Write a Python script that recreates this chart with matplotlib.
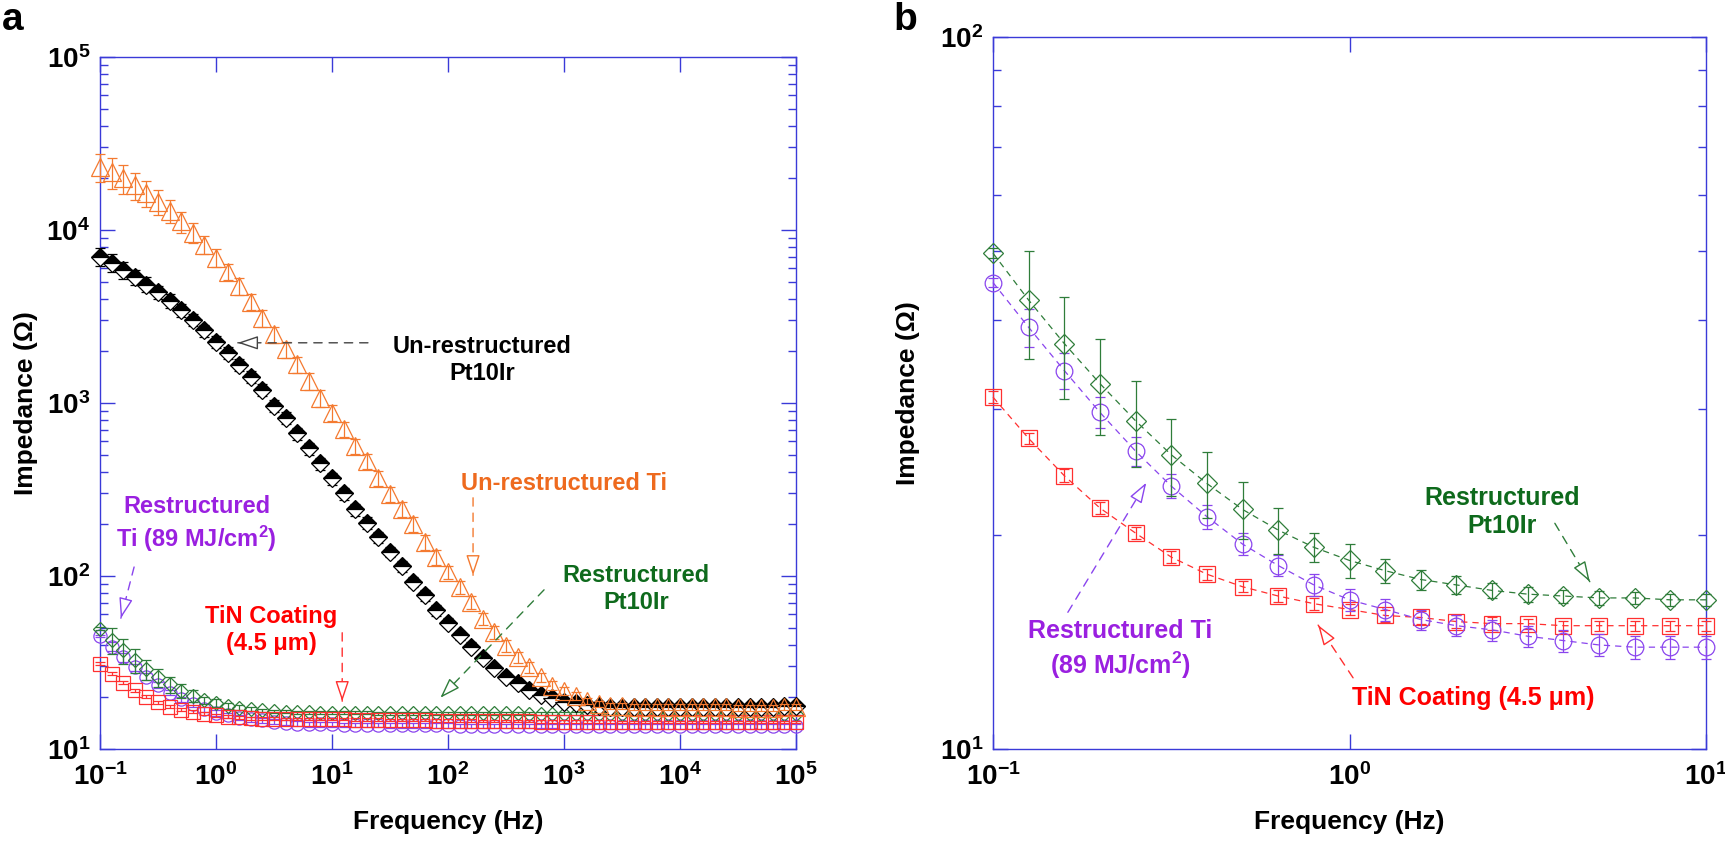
import numpy as np
import matplotlib
matplotlib.use('Agg')
import matplotlib.pyplot as plt
from matplotlib.ticker import LogLocator, FuncFormatter, NullLocator, NullFormatter

plt.rcParams['font.family'] = ['Liberation Sans', 'DejaVu Sans']
plt.rcParams['font.weight'] = 'bold'
plt.rcParams['mathtext.fontset'] = 'custom'
plt.rcParams['mathtext.rm'] = 'Liberation Sans:bold'
plt.rcParams['mathtext.bf'] = 'Liberation Sans:bold'
plt.rcParams['mathtext.it'] = 'Liberation Sans:bold'

# ---------------- data ----------------
freq = [0.1, 0.1259, 0.1585, 0.1995, 0.2512, 0.3162, 0.3981, 0.5012, 0.631, 0.7943,
        1, 1.259, 1.585, 1.995, 2.512, 3.162, 3.981, 5.012, 6.31, 7.943,
        10, 12.59, 15.85, 19.95, 25.12, 31.62, 39.81, 50.12, 63.1, 79.43,
        100, 125.9, 158.5, 199.5, 251.2, 316.2, 398.1, 501.2, 631, 794.3,
        1000, 1259, 1585, 1995, 2512, 3162, 3981, 5012, 6310, 7943,
        10000, 12590, 15850, 19950, 25120, 31620, 39810, 50120, 63100, 79430, 100000]

unres_ti = [23200, 21600, 19950, 18200, 16400, 14600, 12900, 11200, 9660, 8220,
            6920, 5750, 4730, 3850, 3110, 2490, 2040, 1670, 1340, 1070,
            879, 705, 564, 462, 370, 296, 244, 200, 157, 128,
            105, 86.1, 70.5, 56.4, 47.3, 39.5, 33.9, 29.6, 25.9, 23.2,
            21.7, 20.3, 19.0, 18.2, 17.8, 17.7, 17.6, 17.6, 17.5, 17.5,
            17.5, 17.4, 17.4, 17.4, 17.4, 17.3, 17.3, 17.3, 17.3, 17.4, 17.5]
unres_ti_relerr = [0.18, 0.20, 0.19, 0.18, 0.17, 0.16, 0.15, 0.14, 0.13, 0.12,
                   0.12, 0.11, 0.11, 0.11, 0.11, 0.11, 0.11, 0.11, 0.11, 0.11,
                   0.11, 0.10, 0.10, 0.10, 0.10, 0.10, 0.10, 0.10, 0.10, 0.10,
                   0.09, 0.08, 0.08, 0.08, 0.08, 0.08, 0.07, 0.07, 0.06, 0.06,
                   0.05, 0.05, 0.04, 0.04, 0.04, 0.04, 0.04, 0.04, 0.04, 0.04,
                   0.04, 0.04, 0.04, 0.04, 0.04, 0.04, 0.04, 0.04, 0.04, 0.04, 0.04]

unres_pt = [7010, 6460, 5890, 5370, 4840, 4370, 3890, 3430, 3020, 2630,
            2260, 1950, 1660, 1410, 1190, 962, 817, 668, 547, 448,
            367, 300, 243, 202, 167, 138, 114, 92.7, 77.6, 63.5,
            53.7, 45.6, 39.0, 33.4, 29.2, 26.2, 24.0, 21.9, 20.5, 19.6,
            18.7, 18.4, 17.9, 17.7, 17.6, 17.5, 17.5, 17.4, 17.4, 17.4,
            17.4, 17.4, 17.4, 17.4, 17.4, 17.5, 17.5, 17.5, 17.6, 17.7, 17.8]
unres_pt_relerr = [0.12, 0.12, 0.11, 0.10, 0.10, 0.09, 0.09, 0.09, 0.08, 0.08,
                   0.08, 0.08, 0.08, 0.08, 0.08, 0.08, 0.08, 0.08, 0.08, 0.08,
                   0.08, 0.08, 0.08, 0.08, 0.07, 0.07, 0.07, 0.07, 0.07, 0.07,
                   0.06, 0.06, 0.06, 0.05, 0.05, 0.05, 0.05, 0.04, 0.04, 0.04,
                   0.04, 0.04, 0.04, 0.04, 0.04, 0.04, 0.04, 0.04, 0.04, 0.04,
                   0.04, 0.04, 0.04, 0.04, 0.04, 0.04, 0.04, 0.04, 0.04, 0.04, 0.04]

res_pt = [49.7, 42.7, 37.1, 32.6, 28.9, 25.9, 23.6, 21.7, 20.3, 19.2,
          18.4, 17.8, 17.3, 17.0, 16.7, 16.5, 16.4, 16.3, 16.3, 16.2,
          16.2, 16.2, 16.2, 16.2, 16.1, 16.1, 16.1, 16.1, 16.1, 16.1,
          16.1, 16.1, 16.1, 16.1, 16.1, 16.1, 16.1, 16.0, 16.0, 16.0,
          16.0, 16.0, 16.0, 16.0, 16.0, 16.0, 16.0, 16.0, 16.0, 16.0,
          16.0, 16.0, 16.0, 16.0, 16.0, 16.0, 16.0, 16.0, 16.0, 16.0, 16.0]
res_pt_err = [0.8, 7.4, 6.1, 5.0, 4.0, 3.2, 2.5, 2.0, 1.5, 0.9,
              1.0, 0.7, 0.55, 0.5, 0.4, 0.4, 0.35, 0.35, 0.3, 0.3,
              0.3, 0.3, 0.3, 0.3, 0.3, 0.3, 0.3, 0.3, 0.3, 0.3,
              0.3, 0.3, 0.3, 0.3, 0.3, 0.3, 0.3, 0.3, 0.3, 0.3,
              0.3, 0.3, 0.3, 0.3, 0.3, 0.3, 0.3, 0.3, 0.3, 0.3,
              0.3, 0.3, 0.3, 0.3, 0.3, 0.3, 0.3, 0.3, 0.3, 0.3, 0.3]

res_ti = [45.2, 39.1, 34.0, 29.7, 26.2, 23.4, 21.2, 19.4, 18.1, 17.0,
          16.2, 15.7, 15.2, 14.9, 14.7, 14.4, 14.2, 14.0, 13.9, 13.9,
          13.9, 13.8, 13.8, 13.8, 13.8, 13.7, 13.7, 13.7, 13.7, 13.7,
          13.7, 13.6, 13.6, 13.6, 13.6, 13.6, 13.6, 13.6, 13.6, 13.6,
          13.5, 13.5, 13.5, 13.5, 13.5, 13.5, 13.5, 13.5, 13.5, 13.5,
          13.5, 13.5, 13.5, 13.5, 13.5, 13.5, 13.5, 13.5, 13.5, 13.5, 13.5]
res_ti_err = [0.6, 2.4, 2.0, 1.5, 1.2, 0.9, 0.8, 0.7, 0.6, 0.6,
              0.6, 0.55, 0.5, 0.5, 0.5, 0.5, 0.5, 0.5, 0.5, 0.5,
              0.5, 0.4, 0.4, 0.4, 0.4, 0.4, 0.4, 0.4, 0.4, 0.4,
              0.4, 0.4, 0.4, 0.4, 0.4, 0.4, 0.4, 0.4, 0.4, 0.4,
              0.4, 0.4, 0.4, 0.4, 0.4, 0.4, 0.4, 0.4, 0.4, 0.4,
              0.4, 0.4, 0.4, 0.4, 0.4, 0.4, 0.4, 0.4, 0.4, 0.4, 0.4]

tin = [31.2, 27.3, 24.2, 21.8, 20.1, 18.6, 17.6, 16.9, 16.4, 16.0,
       15.7, 15.4, 15.3, 15.1, 15.0, 15.0, 14.9, 14.9, 14.9, 14.9,
       14.9, 14.9, 14.8, 14.8, 14.8, 14.7, 14.7, 14.7, 14.7, 14.6,
       14.6, 14.6, 14.6, 14.5, 14.5, 14.5, 14.5, 14.5, 14.4, 14.4,
       14.4, 14.4, 14.4, 14.4, 14.4, 14.3, 14.3, 14.3, 14.3, 14.3,
       14.3, 14.3, 14.3, 14.3, 14.3, 14.3, 14.3, 14.3, 14.3, 14.3, 14.3]
tin_err = [0.6, 0.5, 0.5, 0.45, 0.4, 0.35, 0.3, 0.3, 0.3, 0.3,
           0.3, 0.3, 0.3, 0.3, 0.3, 0.25, 0.25, 0.25, 0.25, 0.25,
           0.25, 0.25, 0.25, 0.25, 0.25, 0.25, 0.25, 0.25, 0.25, 0.25,
           0.25, 0.25, 0.25, 0.25, 0.25, 0.25, 0.25, 0.25, 0.25, 0.25,
           0.25, 0.25, 0.25, 0.25, 0.25, 0.25, 0.25, 0.25, 0.25, 0.25,
           0.25, 0.25, 0.25, 0.25, 0.25, 0.25, 0.25, 0.25, 0.25, 0.25, 0.25]

n_b = 21  # panel b shows 0.1 - 10 Hz

# ---------------- styles ----------------
C_OR = '#f47a30'
C_GR = '#2f7d3a'
C_PU = '#8a45ee'
C_RD = '#ff3030'
T_OR = '#ee6a1e'
T_GR = '#0e6a1c'
T_PU = '#9a20e0'
T_RD = '#ff0000'
SPINE = '#3a3ad8'

W, H = 1725, 842
fig = plt.figure(figsize=(W / 100, H / 100), dpi=100)
ax_a = fig.add_axes([100 / W, (H - 749) / H, 696 / W, 692 / H])
ax_b = fig.add_axes([993 / W, (H - 749) / H, 713 / W, 712 / H])

f = np.array(freq)


def style_axis(ax, xlim, ylim, ylabelpad):
    ax.set_xscale('log')
    ax.set_yscale('log')
    ax.set_xlim(*xlim)
    ax.set_ylim(*ylim)
    for s in ax.spines.values():
        s.set_color(SPINE)
        s.set_linewidth(1.0)
    ax.xaxis.set_major_locator(LogLocator(base=10, numticks=20))
    ax.xaxis.set_minor_locator(NullLocator())
    ax.yaxis.set_major_locator(LogLocator(base=10, numticks=20))
    ax.yaxis.set_minor_locator(LogLocator(base=10, subs=np.arange(2, 10), numticks=20))
    ax.yaxis.set_minor_formatter(NullFormatter())
    fmt = FuncFormatter(lambda v, p: r'$\mathbf{10^{%d}}$' % int(round(np.log10(v))))
    ax.xaxis.set_major_formatter(fmt)
    ax.yaxis.set_major_formatter(fmt)
    ax.tick_params(which='both', direction='in', top=True, right=True, color=SPINE,
                   labelcolor='black', labelsize=20, width=1.0)
    ax.tick_params(which='major', length=11)
    ax.tick_params(which='minor', length=6)
    ax.tick_params(axis='x', pad=10)
    ax.tick_params(axis='y', pad=7)
    ax.set_xlabel('Frequency (Hz)', fontsize=19, fontweight='bold', labelpad=14)
    ax.set_ylabel('Impedance (Ω)', fontsize=19, fontweight='bold', labelpad=ylabelpad)


style_axis(ax_a, (0.1, 1e5), (10, 1e5), 6)
style_axis(ax_b, (0.1, 10), (10, 100), 14)

ek = dict(elinewidth=0.9, capsize=3.5, capthick=0.9, clip_on=False)

# ---------------- panel a ----------------
ax_a.errorbar(f, res_ti, yerr=res_ti_err, fmt='o', ms=9.5, mfc='none', mec=C_PU, mew=0.9,
              ecolor=C_PU, ls='none', zorder=3, **ek)
ax_a.errorbar(f, res_pt, yerr=res_pt_err, fmt='D', ms=7.5, mfc='none', mec=C_GR, mew=0.9,
              ecolor=C_GR, ls='none', zorder=4, **ek)
ax_a.errorbar(f, tin, yerr=tin_err, fmt='s', ms=9.5, mfc='none', mec=C_RD, mew=0.9,
              ecolor=C_RD, ls='none', zorder=5, **ek)
ax_a.errorbar(f, unres_pt, yerr=np.array(unres_pt) * np.array(unres_pt_relerr), fmt='D', ms=9.5,
              fillstyle='top', mfc='black', mfcalt='white', mec='black', mew=0.9,
              ecolor='black', ls='none', zorder=6, **ek)
ax_a.errorbar(f, unres_ti, yerr=np.array(unres_ti) * np.array(unres_ti_relerr), fmt='^', ms=12.5,
              mfc='none', mec=C_OR, mew=0.9, ecolor=C_OR, ls='none', zorder=7, **ek)

# ---------------- panel b ----------------
dash = (0, (5, 4))
ax_b.errorbar(f[:n_b], tin[:n_b], yerr=tin_err[:n_b], fmt='s', ms=11, mfc='none', mec=C_RD, mew=0.9,
              ecolor=C_RD, color=C_RD, ls=dash, lw=0.9, zorder=3, **ek)
ax_b.errorbar(f[:n_b], res_ti[:n_b], yerr=res_ti_err[:n_b], fmt='o', ms=12, mfc='none', mec=C_PU, mew=0.9,
              ecolor=C_PU, color=C_PU, ls=dash, lw=0.9, zorder=4, **ek)
ax_b.errorbar(f[:n_b], res_pt[:n_b], yerr=res_pt_err[:n_b], fmt='D', ms=10, mfc='none', mec=C_GR, mew=0.9,
              ecolor=C_GR, color=C_GR, ls=dash, lw=0.9, zorder=5, **ek)


# ---------------- annotations ----------------
def arrow(ax, start, tip, color):
    ax.annotate('', xy=tip, xytext=start, xycoords='axes fraction', textcoords='axes fraction',
                arrowprops=dict(arrowstyle='-', color=color, lw=1.0, linestyle=(0, (6, 5)),
                                shrinkA=0, shrinkB=0), zorder=8)
    pt = ax.transAxes.transform(tip)
    ps = ax.transAxes.transform(start)
    d = (pt - ps) / np.hypot(*(pt - ps))
    back = ax.transAxes.inverted().transform(pt - d * 17)
    ax.annotate('', xy=tip, xytext=back, xycoords='axes fraction', textcoords='axes fraction',
                arrowprops=dict(arrowstyle='-|>,head_length=1.25,head_width=0.42', fc='white',
                                ec=color, lw=1.0, shrinkA=0, shrinkB=0), zorder=9)


def label(ax, pos, text, color, size):
    ax.text(pos[0], pos[1], text, transform=ax.transAxes, ha='center', va='center',
            color=color, fontsize=size, fontweight='bold', linespacing=1.25, zorder=10)


label(ax_a, (0.549, 0.562), 'Un-restructured\nPt10Ir', 'black', 17)
arrow(ax_a, (0.385, 0.587), (0.198, 0.587), '#444444')
label(ax_a, (0.667, 0.384), 'Un-restructured Ti', T_OR, 17)
arrow(ax_a, (0.536, 0.363), (0.536, 0.251), C_OR)
label(ax_a, (0.770, 0.231), 'Restructured\nPt10Ir', T_GR, 17)
arrow(ax_a, (0.638, 0.230), (0.489, 0.074), C_GR)
label(ax_a, (0.246, 0.172), 'TiN Coating\n(4.5 μm)', T_RD, 17)
arrow(ax_a, (0.348, 0.168), (0.348, 0.069), C_RD)
label(ax_a, (0.139, 0.324), 'Restructured\nTi (89 MJ/cm$^{2}$)', T_PU, 17)
arrow(ax_a, (0.049, 0.263), (0.030, 0.189), C_PU)

label(ax_b, (0.714, 0.333), 'Restructured\nPt10Ir', T_GR, 18)
arrow(ax_b, (0.788, 0.317), (0.837, 0.235), C_GR)
label(ax_b, (0.178, 0.139), 'Restructured Ti\n(89 MJ/cm$^{2}$)', T_PU, 18)
arrow(ax_b, (0.105, 0.192), (0.215, 0.374), C_PU)
label(ax_b, (0.673, 0.072), 'TiN Coating (4.5 μm)', T_RD, 18)
arrow(ax_b, (0.505, 0.100), (0.456, 0.174), C_RD)

fig.text(2 / W, 1 - 30 / H, 'a', fontsize=28, fontweight='bold', ha='left', va='baseline')
fig.text(893 / W, 1 - 30 / H, 'b', fontsize=28, fontweight='bold', ha='left', va='baseline')

fig.savefig('out.png', dpi=100)
